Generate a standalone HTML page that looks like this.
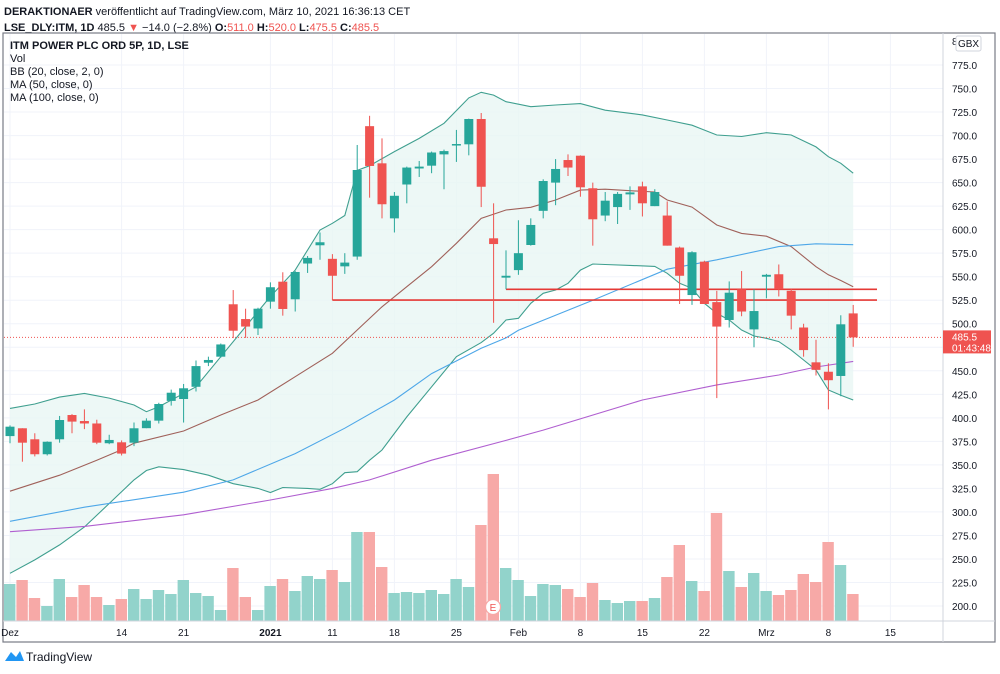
<!DOCTYPE html>
<html><head><meta charset="utf-8">
<style>
body{margin:0;background:#fff;width:1000px;height:669px;overflow:hidden;font-family:"Liberation Sans",sans-serif;}
svg text{font-family:"Liberation Sans",sans-serif;}
</style></head>
<body>
<svg id="chart" width="1000" height="669" viewBox="0 0 1000 669" xmlns="http://www.w3.org/2000/svg">
<text x="4" y="15" font-size="11" fill="#131722"><tspan font-weight="bold">DERAKTIONAER</tspan> veröffentlicht auf TradingView.com, März 10, 2021 16:36:13 CET</text>
<text x="4" y="31" font-size="11" fill="#131722"><tspan font-weight="bold">LSE_DLY:ITM, 1D</tspan> 485.5 <tspan fill="#ef5350">▼</tspan> −14.0 (−2.8%) <tspan font-weight="bold">O:</tspan><tspan fill="#ef5350">511.0</tspan> <tspan font-weight="bold">H:</tspan><tspan fill="#ef5350">520.0</tspan> <tspan font-weight="bold">L:</tspan><tspan fill="#ef5350">475.5</tspan> <tspan font-weight="bold">C:</tspan><tspan fill="#ef5350">485.5</tspan></text>
<rect x="3" y="33" width="992" height="609" fill="#fff" stroke="#787b86" stroke-width="1.2"/>
<g id="grid"></g>
<g id="bands"></g>
<g id="vol"></g>
<g id="lines"></g>
<g id="candles"></g>
<g id="axis"></g>
<g font-size="11" fill="#131722">
<text x="10" y="49" font-weight="bold">ITM POWER PLC ORD 5P, 1D, LSE</text>
<text x="10" y="62">Vol</text>
<text x="10" y="75">BB (20, close, 2, 0)</text>
<text x="10" y="88">MA (50, close, 0)</text>
<text x="10" y="101">MA (100, close, 0)</text>
</g>
<g>
<path d="M5 661 L11 652 L16 657 L20 651 L24 661 Z" fill="#2196f3"/>
<text x="26" y="661" font-size="12" fill="#131722">TradingView</text>
</g>
</svg>
<script>
// ---- data ----
const opens  = [380.6,388.9,377.2,361.3,377.2,403,396.6,394,373,374,373.6,389,397,418,420,433,458.6,465,520.7,505,495,523.5,544.7,526,564,583.4,569,561,571.4,710,670.5,612,648,665,668,680,690,690.7,717.6,590.8,549,557,583.7,620,650,674,678.6,644,615,624,637.5,646,625,615,581,530.5,566,523,504,536.6,494,550,552.6,535,496,459,449,444.5,511];
const highs  = [392,388.9,383.6,375,402,404,409,398,382,376,395,399.5,416,430,436,461,465,479,535.8,516,517,544,554.7,556,572,597,574,575,690,721,697,640,667,673,683,685,706,718,724,628,578,610,612,653.5,675,680,679,650,640,640,646,651,643,630,582,577,567,535,545,556,536.6,553,563,537,500,483,458,509,520];
const lows   = [373,353.4,359,360,373.6,383.6,388,372,372,360,370,389,394,413,395,428,455,464,484.7,485,488,516,508.6,513,554,568,525,553,568,634,612,597,628,656,660,643,672,679,624,501,536.6,552,583,612,626,657,635,583,609,606,621,614,625,583,521,520,521,421,496,508,475,527,529,494,465,445,409,423,475.5];
const closes = [390.6,373.6,361.3,374.6,397.7,396,394,373.6,376.5,362,388.9,397,414.7,426.7,431.4,455,461.5,478,492.6,497,516,538.8,515.7,555,570,586.6,551,565,663.4,667.7,627,636,666,667,682,683.5,691,717.6,645.6,584.7,551,575,605,651.7,664.5,666,645,611,630.8,638,639.6,628,640,583,551,576,521,497,533,513,513.5,552,536.6,508.6,472,451,440,499.4,485.5];
const volumes = [37,41,23,15,42,24,36,24,16,22,32,22,31,27,41,28,25,11,53,24,11,35,42,30,45,42,51,39,89,89,54,28,29,28,31,27,42,34,96,147,53,41,25,37,36,32,24,38,21,18,20,20,23,44,76,40,30,108,50,34,48,30,26,31,47,39,79,56,27];
const bbUpper = [[0,410],[2,414.7],[4,422],[6,426],[8,421],[10,413.6],[11,406.5],[12,411.8],[15,433],[17,465],[19,497],[21,529],[23,557],[25,599.6],[26,606.8],[27,615],[28,663],[29,668],[31,683],[33,697],[35,713],[37,740],[38,746],[39,743],[40,736],[42,730.7],[44,732.5],[46,734],[48,727],[51,722],[53,716.5],[55,711],[57,700.6],[59,699],[61,703],[63,700.6],[65,688],[66,677.5],[67,670.5],[68,660]];
const bbMid = [[0,322],[4,339],[7,355],[9,366],[10,373],[14,386],[17,403],[20,419],[23,443.7],[26,468.6],[28,493.4],[30,518],[32,539.4],[34,560.6],[36,585.5],[38,612],[40,620.9],[42,623.8],[44,631.5],[46,642],[48,643],[50,641.4],[52,640],[53,631.5],[55,624],[57,605],[59,596],[61,593],[63,582],[65,560.6],[66,552],[67,546],[68,539.4]];
const bbLower = [[0,234.8],[2,249],[4,265],[6,284],[8,309],[10,334],[11,344],[12,348],[14,345],[16,339],[18,330],[20,325],[21,320.7],[22,326],[24,325],[25,324],[26,330],[27,341.7],[28,342.8],[29,355],[30,365.8],[32,401],[34,433],[36,465],[38,480],[39,490],[40,504],[41,505.8],[42,521.7],[43,532.4],[44,535.9],[45,543],[46,557],[47,563.5],[48,563],[50,562],[52,561],[53,553.6],[54,543],[55,537.7],[56,521.7],[57,511],[58,504],[59,493.4],[60,487],[61,484.5],[62,481],[63,472],[64,461.5],[65,451],[66,429.6],[67,424],[68,419]];
const ma50 = [[0,290],[6,305],[14,321],[18,334],[23,362],[27,389],[31,419],[34,447],[38,474],[40,485],[41,493],[47,525],[53,558],[57,568],[62,582],[65,585],[68,584]];
const ma100 = [[0,279],[6,284.6],[14,297],[21,312.7],[26,325],[29,334],[34,355],[40,376],[43,387],[51,419],[57,435],[62,445.5],[65,454],[68,460]];
const levelLines = [[26,525.2],[40,536.6]];
const priceTicks = [775,750,725,700,675,650,625,600,575,550,525,500,475,450,425,400,375,350,325,300,275,250,225,200];
const dateLabels = ["Dez","14","21","2021","11","18","25","Feb","8","15","22","Mrz","8","15"];
const dateIdx = [0,9,14,21,26,31,36,41,46,51,56,61,66,71];
const lastPrice = 485.5;

// ---- scales ----
const NS="http://www.w3.org/2000/svg";
const xS = i => 10 + 12.4*i;
const yS = p => 65 + (775-p)*0.9409;
const volBase = 621;
const yV = v => volBase - v;
function mk(tag, attrs, parent){const e=document.createElementNS(NS,tag);for(const k in attrs)e.setAttribute(k,attrs[k]);parent.appendChild(e);return e;}
const G=id=>document.getElementById(id);
const UP="#26a69a", DN="#ef5350";

// grid
priceTicks.forEach(p=>{const l=mk('line',{x1:4,x2:943,y1:yS(p),y2:yS(p),stroke:'#f0f3fa','stroke-width':1},G('grid'));

});
dateIdx.forEach(i=>{const l=mk('line',{x1:xS(i),x2:xS(i),y1:34,y2:621,stroke:'#f0f3fa','stroke-width':1},G('grid'));

});

// bands
const pts = arr => arr.map(([i,v])=>xS(i).toFixed(1)+','+yS(v).toFixed(1));
const fill = mk('polygon',{points:pts(bbUpper).concat(pts(bbLower).reverse()).join(' '),fill:'#e9f6f4','fill-opacity':0.8},G('bands'));



// volume
volumes.forEach((v,i)=>{const up=closes[i]>=opens[i];
const r=mk('rect',{x:xS(i)-6,y:yV(v),width:11.4,height:v,fill:up?'#92d3cb':'#f7a9a7'},G('vol'));

});
const ec=mk('circle',{cx:493,cy:607,r:7.5,fill:'#fff',stroke:'#f7a9a7','stroke-width':1.2},G('vol'));


const et=mk('text',{x:493,y:611,'font-size':10,'text-anchor':'middle',fill:'#ef5350'},G('vol'));et.textContent='E';

// lines
function line(arr,color,name){const p=mk('polyline',{points:pts(arr).join(' '),fill:'none',stroke:color,'stroke-width':1.1},G('lines'));

}
line(bbUpper,'#3f9f8f','bb-upper');
line(bbLower,'#3f9f8f','bb-lower');
line(bbMid,'#a0615a','bb-basis');
line(ma50,'#4ea7e8','ma-50');
line(ma100,'#b05fd0','ma-100');
// current price dotted
const cp=mk('line',{x1:4,x2:943,y1:yS(lastPrice),y2:yS(lastPrice),stroke:'#ef5350','stroke-width':1,'stroke-dasharray':'1,2'},G('lines'));


levelLines.forEach(([i,p])=>{const l=mk('line',{x1:xS(i),x2:877,y1:yS(p),y2:yS(p),stroke:'#e53935','stroke-width':1.6},G('lines'));

});

// candles
opens.forEach((o,i)=>{const c=closes[i],up=c>=o,col=up?UP:DN,x=xS(i);
const g=mk('g',{},G('candles'));


mk('line',{x1:x,x2:x,y1:yS(highs[i]),y2:yS(lows[i]),stroke:col,'stroke-width':1},g);
const top=yS(Math.max(o,c)),bot=yS(Math.min(o,c));
mk('rect',{x:x-4.5,y:top,width:9,height:Math.max(1.5,bot-top),fill:col},g);});

// axes
const ax=G('axis');
mk('line',{x1:943,x2:943,y1:33,y2:642,stroke:'#d1d4dc'},ax);
mk('line',{x1:3,x2:995,y1:621,y2:621,stroke:'#d1d4dc'},ax);
mk('line',{x1:943,x2:995,y1:621,y2:621,stroke:'#d1d4dc'},ax);
priceTicks.forEach(p=>{const t=mk('text',{x:952,y:yS(p)+4,'font-size':10,fill:'#131722'},ax);t.textContent=p.toFixed(1);

});
const t800=mk('text',{x:952,y:45,'font-size':10,fill:'#131722'},ax);t800.textContent='800';
const gb=mk('rect',{x:956,y:36,width:25,height:15,rx:2,fill:'#fff',stroke:'#d1d4dc'},ax);


const gt=mk('text',{x:968.5,y:47,'font-size':10,'text-anchor':'middle',fill:'#131722'},ax);gt.textContent='GBX';
dateLabels.forEach((d,k)=>{const t=mk('text',{x:xS(dateIdx[k]),y:636,'font-size':10,'text-anchor':'middle',fill:'#131722','font-weight':d==='2021'?'bold':'normal'},ax);t.textContent=d;

});
const pb=mk('rect',{x:943,y:yS(lastPrice)-7,width:48,height:23,fill:'#ef5350'},ax);


const pt1=mk('text',{x:952,y:yS(lastPrice)+3,'font-size':10,fill:'#fff'},ax);pt1.textContent=lastPrice.toFixed(1);
const pt2=mk('text',{x:952,y:yS(lastPrice)+14,'font-size':10,fill:'#fff'},ax);pt2.textContent='01:43:48';
</script>
</body></html>
